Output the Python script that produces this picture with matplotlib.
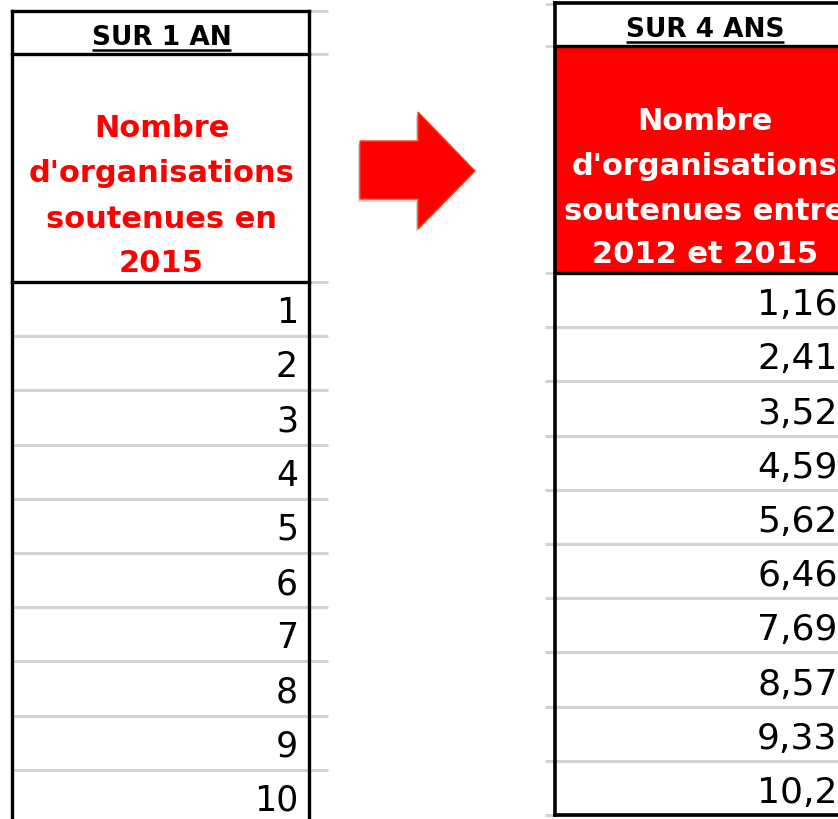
import matplotlib
matplotlib.use("Agg")
import matplotlib.pyplot as plt
from matplotlib.patches import Rectangle, Polygon

# ---- data ----
title_1an = "SUR 1 AN"
title_4ans = "SUR 4 ANS"
header_1an = ["Nombre", "d'organisations", "soutenues en", "2015"]
header_4ans = ["Nombre", "d'organisations", "soutenues entre", "2012 et 2015"]
values_1an = ["1", "2", "3", "4", "5", "6", "7", "8", "9", "10"]
values_4ans = ["1,16", "2,41", "3,52", "4,59", "5,62", "6,46", "7,69", "8,57", "9,33", "10,2"]

# ---- style ----
W, H = 838, 820
RED = "#FF0000"
GRID = "#D3D3D3"
BOLD = dict(family="DejaVu Sans", weight="bold")

fig = plt.figure(figsize=(W / 100, H / 100), dpi=100)
ax = fig.add_axes([0, 0, 1, 1])
ax.set_xlim(0, W)
ax.set_ylim(H, 0)
ax.axis("off")

row_h = 54.2

# ---------------- left table ----------------
L0, L1 = 12, 309
lt_top, lt_h1, lt_h2 = 12, 55, 283
for y in [lt_top, lt_h1, lt_h2]:
    ax.plot([L1, 328], [y, y], color=GRID, lw=2, solid_capstyle="butt", zorder=1)
for i in range(1, len(values_1an)):
    y = lt_h2 + i * row_h
    ax.plot([L0, 328], [y, y], color=GRID, lw=2.2, solid_capstyle="butt", zorder=1)
ax.plot([L0, L1], [lt_top, lt_top], color="black", lw=2.4, zorder=3)
ax.plot([L0, L1], [lt_h1, lt_h1], color="black", lw=2.4, zorder=3)
ax.plot([L0, L1], [lt_h2, lt_h2], color="black", lw=2.4, zorder=3)
ax.plot([L0, L0], [lt_top, H + 5], color="black", lw=2.4, zorder=3)
ax.plot([L1, L1], [lt_top, H + 5], color="black", lw=2.4, zorder=3)

cx_l = (L0 + L1) / 2 + 1
t1 = ax.text(cx_l, 45, title_1an, ha="center", va="baseline", fontsize=19, color="black", **BOLD)
for txt, yb in zip(header_1an, [137, 182, 228, 272]):
    ax.text(cx_l, yb, txt, ha="center", va="baseline", fontsize=22, color=RED, **BOLD)
for i, v in enumerate(values_1an):
    yb = lt_h2 + (i + 1) * row_h - 14
    ax.text(298, yb, v, ha="right", va="baseline", fontsize=25, color="black", family="DejaVu Sans")

# ---------------- right table ----------------
R0 = 555
rt_top, rt_h1, rt_h2 = 4, 47, 274
ax.add_patch(Rectangle((R0, rt_h1), W + 20 - R0, rt_h2 - rt_h1, facecolor=RED, edgecolor="none", zorder=0))
for y in [rt_top + 1, rt_h1, rt_h2]:
    ax.plot([545, R0], [y, y], color=GRID, lw=2, solid_capstyle="butt", zorder=1)
for i in range(1, len(values_4ans) + 1):
    y = rt_h2 + i * row_h
    ax.plot([545, W + 5], [y, y], color=GRID, lw=2.2, solid_capstyle="butt", zorder=1)
bottom_r = rt_h2 + len(values_4ans) * row_h
ax.plot([R0, W + 5], [rt_top, rt_top], color="black", lw=2.6, zorder=3)
ax.plot([R0, W + 5], [rt_h1, rt_h1], color="black", lw=2.4, zorder=3)
ax.plot([R0, W + 5], [rt_h2, rt_h2], color="black", lw=2.4, zorder=3)
ax.plot([R0, W + 5], [bottom_r, bottom_r], color="black", lw=2.6, zorder=3)
ax.plot([R0, R0], [rt_top, bottom_r], color="black", lw=2.6, zorder=3)

cx_r = 705
t2 = ax.text(cx_r, 37, title_4ans, ha="center", va="baseline", fontsize=19, color="black", **BOLD)
for txt, yb in zip(header_4ans, [130, 175, 220, 263]):
    ax.text(cx_r, yb, txt, ha="center", va="baseline", fontsize=22, color="white", **BOLD)
for i, v in enumerate(values_4ans):
    yb = rt_h2 + (i + 1) * row_h - 13
    ax.text(757, yb, v, ha="left", va="baseline", fontsize=26, color="black", family="DejaVu Sans")

# ---------------- underlines ----------------
fig.canvas.draw()
inv = ax.transData.inverted()
for t, yu in [(t1, 51), (t2, 43)]:
    bb = t.get_window_extent()
    (x0, _), (x1, _) = inv.transform([(bb.x0, bb.y0), (bb.x1, bb.y1)])
    ax.plot([x0, x1], [yu, yu], color="black", lw=1.8, solid_capstyle="butt", zorder=3)

# ---------------- arrow ----------------
arrow_pts = [(360, 142), (418, 142), (418, 113), (475, 172), (418, 230), (418, 200), (360, 200)]
shadow = [(x - 2, y + 3) for x, y in arrow_pts]
ax.add_patch(Polygon(shadow, closed=True, facecolor="#BBBBBB", edgecolor="none", alpha=0.6, zorder=1))
ax.add_patch(Polygon(arrow_pts, closed=True, facecolor=RED, edgecolor="#FF3B10", lw=1, zorder=2))

fig.savefig("out.png", dpi=100)
